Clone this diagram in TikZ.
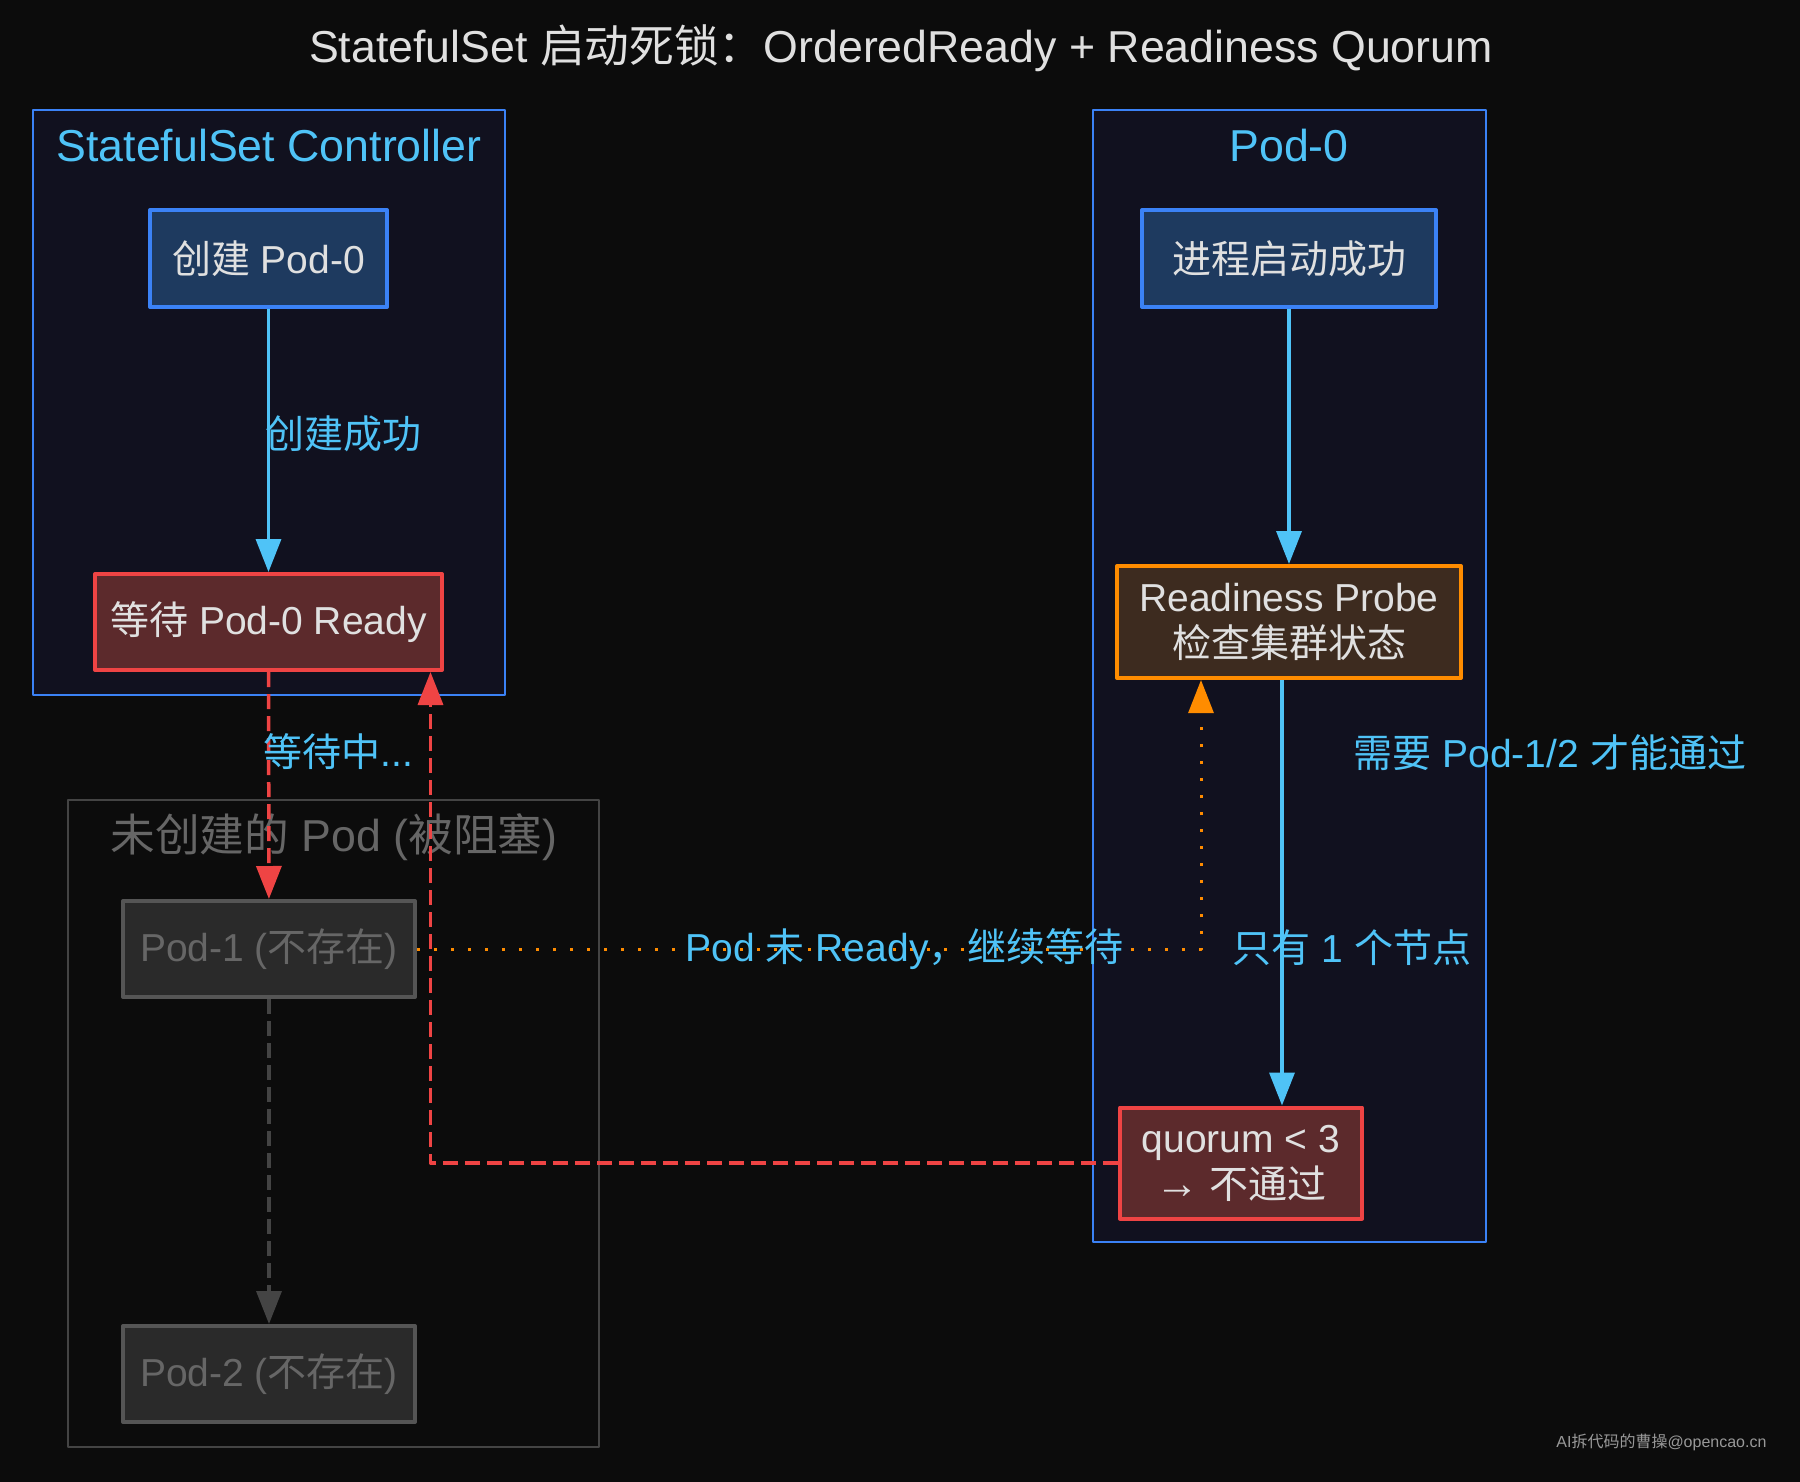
\documentclass[tikz,border=0pt]{standalone}
\usepackage{fontspec}
\setmainfont{Liberation Sans}
\newfontfamily\cjk{Noto Sans CJK SC}
\usetikzlibrary{arrows.meta}
\newcommand\zh[1]{{\cjk #1}}
\newcommand\bigtxt{\fontsize{44.7}{52}\selectfont}
\newcommand\midtxt{\fontsize{39}{46}\selectfont}
\definecolor{bgdark}{HTML}{0C0C0C}
\definecolor{clfill}{HTML}{11111F}
\definecolor{clblue}{HTML}{3B82F6}
\definecolor{lblcyan}{HTML}{4FC3F7}
\definecolor{txtlight}{HTML}{E0E0E0}
\definecolor{nodeblue}{HTML}{1E3A5F}
\definecolor{nodered}{HTML}{5C2A2C}
\definecolor{linered}{HTML}{EF4444}
\definecolor{nodebrown}{HTML}{3D2B1F}
\definecolor{lineorange}{HTML}{FF8C00}
\definecolor{podfill}{HTML}{2A2A2A}
\definecolor{podline}{HTML}{555555}
\definecolor{podtext}{HTML}{666666}
\definecolor{blockline}{HTML}{444444}
\begin{document}
\begin{tikzpicture}[x=1pt, y=-1pt, line join=round, >={Triangle[length=33pt,width=25pt]}]
	\tikzset{box/.style={draw, line width=4pt, inner sep=0pt, align=center, font=\midtxt, text=txtlight},
		bluebox/.style={box, draw=clblue, fill=nodeblue},
		redbox/.style={box, draw=linered, fill=nodered},
		probebox/.style={box, draw=lineorange, fill=nodebrown},
		podbox/.style={box, draw=podline, fill=podfill, text=podtext, minimum width=292pt, minimum height=96pt},
		clusterbox/.style={draw=clblue, fill=clfill, line width=2pt},
		cltitle/.style={font=\bigtxt, text=lblcyan, inner sep=0pt},
		elabel/.style={font=\midtxt, text=lblcyan, inner sep=0pt},
		flow/.style={draw=lblcyan, line width=3.5pt},
		failline/.style={draw=linered, line width=3.5pt, dash pattern=on 15pt off 7pt},
		waitline/.style={draw=blockline, line width=3.5pt, dash pattern=on 15pt off 7pt},
		probeline/.style={draw=lineorange, line width=3pt, dash pattern=on 3pt off 14pt}}
	\fill[bgdark] (0,0) rectangle (1800,1482);
	\node[font=\bigtxt, text=txtlight] (title) at (901,48) {StatefulSet \zh{启动死锁：}OrderedReady + Readiness Quorum};
	\draw[clusterbox] (33,110) rectangle (505,695);
	\draw[clusterbox] (1093,110) rectangle (1486,1242);
	\draw[blockline, line width=2pt] (68,800) rectangle (599,1447);
	\node[cltitle] (ctrltitle) at (269,146) {StatefulSet Controller};
	\node[cltitle] (podtitle) at (1289,146) {Pod-0};
	\node[cltitle, text=podtext] (blocktitle) at (334,837) {\zh{未创建的} Pod (\zh{被阻塞})};
	\node[bluebox, minimum width=237pt, minimum height=97pt] (create) at (268.5,258.5) {\zh{创建} Pod-0};
	\node[redbox, minimum width=347pt, minimum height=96pt] (waitready) at (268.5,622) {\zh{等待} Pod-0 Ready};
	\foreach \n/\y/\t in {pod1/949/1, pod2/1374/2}
		\node[podbox] (\n) at (269,\y) {Pod-\t{} (\zh{不存在})};
	\node[bluebox, minimum width=294pt, minimum height=97pt] (proc) at (1289,258.5) {\zh{进程启动成功}};
	\node[probebox, minimum width=344pt, minimum height=112pt] (probe) at (1289,622) {Readiness Probe\\\zh{检查集群状态}};
	\node[redbox, minimum width=242pt, minimum height=111pt] (quorum) at (1241,1163) {quorum < 3\\{\fontsize{44}{46}\selectfont →} \zh{不通过}};
	\draw[flow, ->] (create) -- node[elabel, pos=0.475, anchor=west, xshift=-4.5pt] {\zh{创建成功}} (waitready);
	\draw[failline, ->] (waitready) -- node[elabel, pos=0.35, anchor=west, xshift=-6.5pt] {\zh{等待中}...} (pod1);
	\draw[waitline, ->] (pod1) -- (pod2);
	\draw[flow, ->] (proc) -- (probe);
	\draw[flow, ->] ([xshift=-7pt]probe.south) -- node[elabel, pos=0.17, anchor=west, xshift=70pt] {\zh{需要} Pod-1/2 \zh{才能通过}}
		node[elabel, pos=0.63, xshift=70pt] {\zh{只有} 1 \zh{个节点}} ([xshift=-7pt]probe.south |- quorum.north);
	\draw[failline, ->] (quorum.west) -| ([xshift=162pt]waitready.south);
	\draw[probeline, ->] (pod1.east) -| node[elabel, pos=0.311] {Pod \zh{未} Ready\zh{，继续等待}} ([xshift=-88pt]probe.south);
	\node[font=\fontsize{16}{18}\selectfont, text=gray!80, anchor=east] (mark) at (1770,1442) {AI\zh{拆代码的曹操}@opencao.cn};
\end{tikzpicture}
\end{document}
